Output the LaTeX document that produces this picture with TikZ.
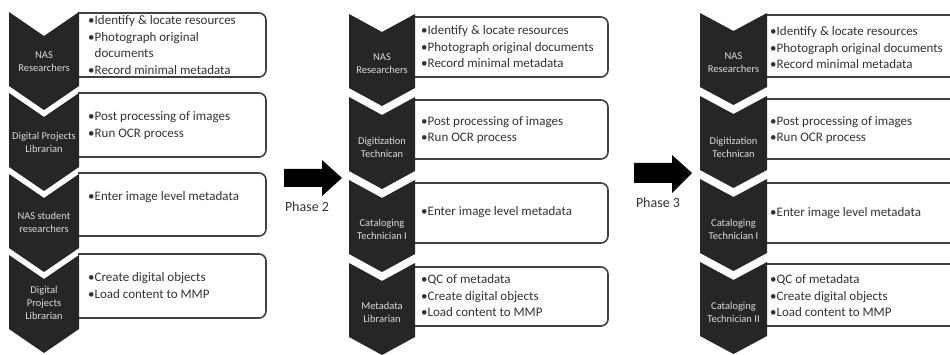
\documentclass[tikz,border=0pt]{standalone}
\usepackage{fontspec}
\setmainfont{Carlito}
\begin{document}
\begin{tikzpicture}[x=1pt,y=1pt,yscale=-1,xscale=1,
  chev/.style={fill={rgb,255:red,38;green,38;blue,38}},
  taskbox/.style={draw={rgb,255:red,64;green,64;blue,64},line width=1.6pt,rounded corners=7pt},
  phasearrow/.style={fill=black},
  role/.style={inner sep=0pt,align=center,text={rgb,255:red,220;green,220;blue,220},font=\fontsize{10.5}{13}\selectfont},
  task/.style={inner sep=0pt,anchor=west,align=left,text={rgb,255:red,50;green,50;blue,50},font=\fontsize{13}{16.5}\selectfont},
  phaselbl/.style={inner sep=0pt,text={rgb,255:red,50;green,50;blue,50},font=\fontsize{14}{16}\selectfont}]
\useasboundingbox (0,0) rectangle (950,355);
\clip (0,0) rectangle (950,355);

%Shape: Boxes phase 1
\draw[taskbox] (78,13) -- (266,13) -- (266,77) -- (78,77);
\draw[taskbox] (78,93) -- (266,93) -- (266,157) -- (78,157);
\draw[taskbox] (78,173) -- (266,173) -- (266,236) -- (78,236);
\draw[taskbox] (78,254) -- (266,254) -- (266,318) -- (78,318);
%Shape: Chevrons phase 1
\fill[chev] (9,12) -- (44,36) -- (79,12) -- (79,86) -- (44,110) -- (9,86) -- cycle;
\fill[chev] (9,93) -- (44,117) -- (79,93) -- (79,167) -- (44,191) -- (9,167) -- cycle;
\fill[chev] (9,174) -- (44,198) -- (79,174) -- (79,248) -- (44,272) -- (9,248) -- cycle;
\fill[chev] (9,255) -- (44,279) -- (79,255) -- (79,329) -- (44,353) -- (9,329) -- cycle;

%Shape: Boxes phase 2
\draw[taskbox] (414,17) -- (608,17) -- (608,77) -- (414,77);
\draw[taskbox] (414,100) -- (608,100) -- (608,159) -- (414,159);
\draw[taskbox] (414,183) -- (608,183) -- (608,243) -- (414,243);
\draw[taskbox] (414,267) -- (608,267) -- (608,326) -- (414,326);
%Shape: Chevrons phase 2
\fill[chev] (349,14) -- (382,32) -- (415,14) -- (415,88) -- (382,106) -- (349,88) -- cycle;
\fill[chev] (349,97) -- (382,115) -- (415,97) -- (415,171) -- (382,189) -- (349,171) -- cycle;
\fill[chev] (349,180) -- (382,198) -- (415,180) -- (415,254) -- (382,272) -- (349,254) -- cycle;
\fill[chev] (349,263) -- (382,281) -- (415,263) -- (415,337) -- (382,355) -- (349,337) -- cycle;

%Shape: Boxes phase 3
\draw[taskbox] (766,15) -- (990,15) -- (990,77) -- (766,77);
\draw[taskbox] (766,99) -- (990,99) -- (990,159) -- (766,159);
\draw[taskbox] (766,183) -- (990,183) -- (990,243) -- (766,243);
\draw[taskbox] (766,264) -- (990,264) -- (990,326) -- (766,326);
%Shape: Chevrons phase 3
\fill[chev] (700,13) -- (733.5,31) -- (767,13) -- (767,87) -- (733.5,105) -- (700,87) -- cycle;
\fill[chev] (700,96) -- (733.5,114) -- (767,96) -- (767,170) -- (733.5,188) -- (700,170) -- cycle;
\fill[chev] (700,179) -- (733.5,197) -- (767,179) -- (767,253) -- (733.5,271) -- (700,253) -- cycle;
\fill[chev] (700,262) -- (733.5,280) -- (767,262) -- (767,336) -- (733.5,354) -- (700,336) -- cycle;

%Shape: Phase arrows
\fill[phasearrow] (284,169) -- (322,169) -- (322,160) -- (342,178) -- (322,196) -- (322,187) -- (284,187) -- cycle;
\fill[phasearrow] (634,163) -- (672,163) -- (672,155) -- (692,173) -- (672,193) -- (672,183) -- (634,183) -- cycle;

% Text Node
\node[role] (roleA1) at (44,62) {NAS\\Researchers};
\node[role] (roleA2) at (44,142.5) {Digital Projects\\Librarian};
\node[role] (roleA3) at (44,222) {NAS student\\researchers};
\node[role] (roleA4) at (44,303) {Digital\\Projects\\Librarian};
% Text Node
\node[task] (taskA1) at (88,45) {•Identify \& locate resources\\•Photograph original\\\phantom{•}documents\\•Record minimal metadata};
\node[task] (taskA2) at (88,125.5) {•Post processing of images\\•Run OCR process};
\node[task] (taskA3) at (88,197) {•Enter image level metadata};
\node[task] (taskA4) at (88,285.5) {•Create digital objects\\•Load content to MMP};

% Text Node
\node[role] (roleB1) at (382,63.5) {NAS\\Researchers};
\node[role] (roleB2) at (382,147.5) {Digitization\\Technican};
\node[role] (roleB3) at (382,229) {Cataloging\\Technician I};
\node[role] (roleB4) at (382,312) {Metadata\\Librarian};
% Text Node
\node[task] (taskB1) at (421,47) {•Identify \& locate resources\\•Photograph original documents\\•Record minimal metadata};
\node[task] (taskB2) at (421,130) {•Post processing of images\\•Run OCR process};
\node[task] (taskB3) at (421,212) {•Enter image level metadata};
\node[task] (taskB4) at (421,296) {•QC of metadata\\•Create digital objects\\•Load content to MMP};

% Text Node
\node[role] (roleC1) at (733.5,63) {NAS\\Researchers};
\node[role] (roleC2) at (733.5,147) {Digitization\\Technican};
\node[role] (roleC3) at (733.5,229) {Cataloging\\Technician I};
\node[role] (roleC4) at (733.5,312) {Cataloging\\Technician II};
% Text Node
\node[task] (taskC1) at (770,48) {•Identify \& locate resources\\•Photograph original documents\\•Record minimal metadata};
\node[task] (taskC2) at (770,130) {•Post processing of images\\•Run OCR process};
\node[task] (taskC3) at (770,213) {•Enter image level metadata};
\node[task] (taskC4) at (770,296) {•QC of metadata\\•Create digital objects\\•Load content to MMP};

% Text Node
\node[phaselbl] (phase2) at (307,207) {Phase 2};
\node[phaselbl] (phase3) at (658,203) {Phase 3};

\end{tikzpicture}
\end{document}
